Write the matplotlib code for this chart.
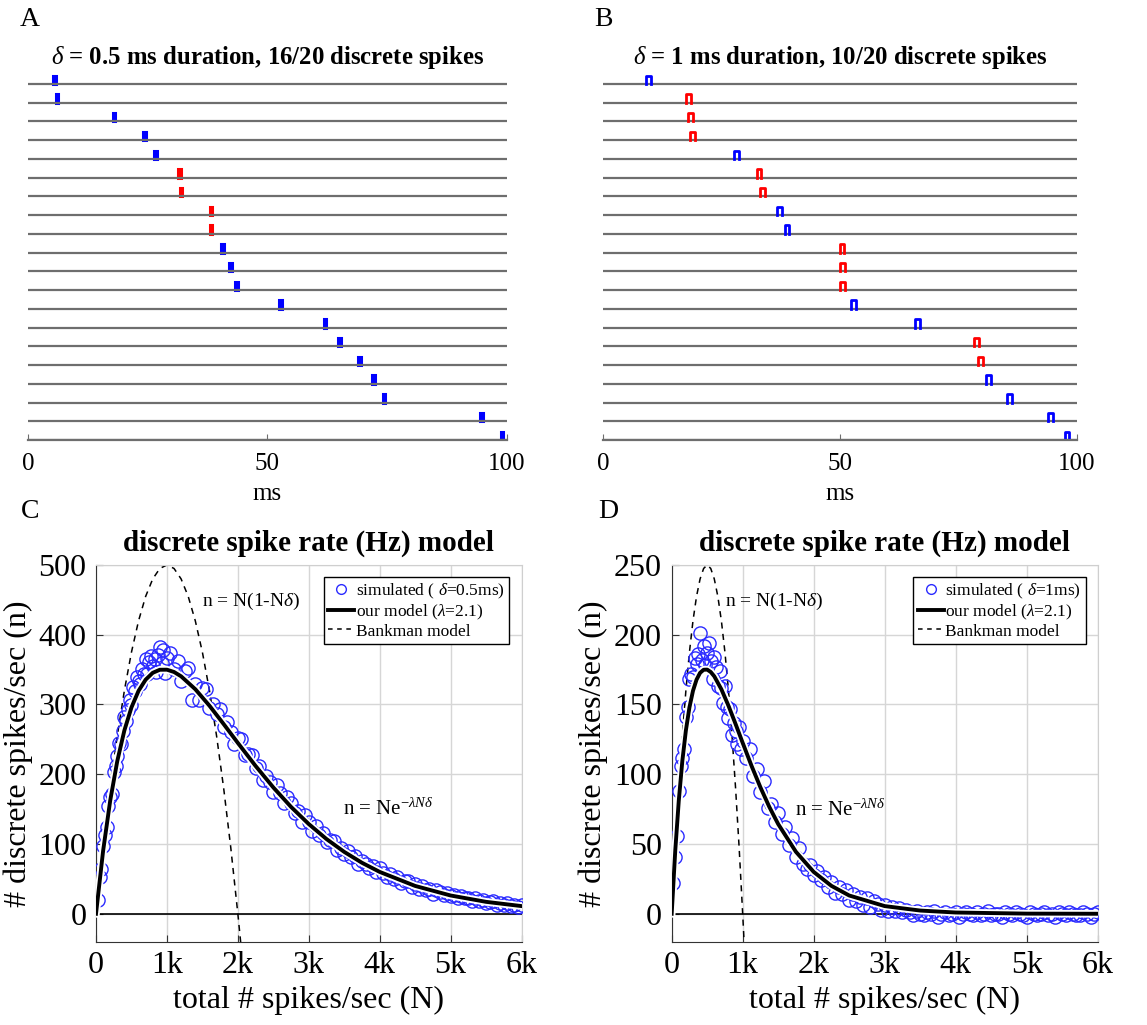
import matplotlib
matplotlib.use("Agg")
import matplotlib.pyplot as plt
import numpy as np

plt.rcParams['font.family'] = 'Liberation Serif'
plt.rcParams['mathtext.fontset'] = 'custom'
plt.rcParams['mathtext.rm'] = 'Liberation Serif'
plt.rcParams['mathtext.it'] = 'Liberation Serif:italic'
plt.rcParams['mathtext.bf'] = 'Liberation Serif:bold'

#### raster data (spike onset in ms, one per trace, top to bottom) ####
spikes_a = [5.3, 5.8, 17.7, 24.1, 26.4, 31.4, 31.7, 38.0, 38.0, 40.4,
            42.0, 43.3, 52.5, 61.7, 64.8, 69.0, 71.9, 74.1, 94.4, 98.7]
colors_a = ['b', 'b', 'b', 'b', 'b', 'r', 'r', 'r', 'r', 'b',
            'b', 'b', 'b', 'b', 'b', 'b', 'b', 'b', 'b', 'b']
spikes_b = [9.1, 17.5, 18.0, 18.4, 27.6, 32.4, 33.1, 36.7, 38.3, 49.9,
            50.0, 50.0, 52.3, 65.9, 78.3, 79.2, 80.9, 85.2, 93.9, 97.4]
colors_b = ['b', 'r', 'r', 'r', 'b', 'r', 'r', 'b', 'b', 'r',
            'r', 'r', 'b', 'b', 'r', 'r', 'b', 'b', 'b', 'b']

#### simulated points (N in spikes/sec) ####
sim_N = [25, 50, 75, 100, 125, 150, 175, 200, 225, 250, 275, 300, 325, 350, 375, 400,
         425, 450, 475, 500, 525, 550, 575, 600, 625, 650, 675, 700, 725, 750, 775, 800,
         825, 850, 875, 900, 925, 950, 975, 1000,
         1050, 1100, 1150, 1200, 1250, 1300, 1350, 1400, 1450, 1500, 1550, 1600, 1650, 1700,
         1750, 1800, 1850, 1900, 1950, 2000, 2050, 2100, 2150, 2200, 2250, 2300, 2350, 2400,
         2450, 2500, 2550, 2600, 2650, 2700, 2750, 2800, 2850, 2900, 2950, 3000, 3050, 3100,
         3150, 3200, 3250, 3300, 3350, 3400, 3450, 3500, 3550, 3600, 3650, 3700, 3750, 3800,
         3850, 3900, 3950, 4000, 4050, 4100, 4150, 4200, 4250, 4300, 4350, 4400, 4450, 4500,
         4550, 4600, 4650, 4700, 4750, 4800, 4850, 4900, 4950, 5000, 5050, 5100, 5150, 5200,
         5250, 5300, 5350, 5400, 5450, 5500, 5550, 5600, 5650, 5700, 5750, 5800, 5850, 5900,
         5950, 6000]
sim_c = [20, 52, 64, 97, 113, 124, 155, 168, 172, 203,
         212, 226, 245, 244, 262, 282, 276, 292, 306, 299,
         325, 319, 340, 334, 330, 351, 344, 365, 343, 361,
         370, 355, 365, 346, 371, 383, 360, 378, 345, 366,
         374, 351, 362, 334, 348, 352, 307, 330, 306, 323,
         322, 295, 301, 287, 294, 268, 275, 261, 244, 252,
         250, 227, 229, 228, 209, 212, 192, 198, 189, 175,
         185, 173, 159, 168, 159, 144, 147, 132, 141, 131,
         119, 126, 113, 116, 103, 106, 105, 92, 94, 86,
         90, 81, 83, 72, 76, 71, 65, 69, 60, 65,
         59, 52, 57, 50, 52, 44, 47, 47, 39, 42,
         36, 40, 34, 36, 29, 34, 31, 27, 30, 25,
         27, 22, 26, 22, 23, 18, 22, 18, 20, 15,
         17, 18, 13, 15, 13, 15, 11, 13, 10, 13]
sim_d = [22, 41, 56, 88, 106, 112, 118, 141, 148, 168,
         172, 170, 183, 179, 186, 201, 182, 192, 178, 187,
         194, 181, 168, 184, 177, 163, 174, 162, 151, 163,
         148, 140, 147, 128, 137, 131, 122, 134, 118, 124,
         112, 118, 99, 104, 87, 95, 76, 79, 66, 72,
         57, 62, 49, 54, 41, 47, 36, 32, 35, 28,
         31, 24, 26, 19, 23, 15, 19, 14, 17, 10,
         14, 9, 12, 6, 11, 5, 9, 7, 3, 6,
         2, 5, 2, 4, 1, 3,
         1, -1, 2, 0, -1, 1, 0, 2, -2, 0,
         1, -1, 0, 1, -2, 0, 1, 0, -1, 1,
         -1, 0, 2, -1, 0, 0, -2, 1, 0, -1,
         1, 0, -1, -2, 1, 0, -1, 0, 1, -1,
         0, -2, 1, 0, -1, 1, 0, -1, -1, 1,
         0, -2, 0, 1]

#### our model n = N exp(-lambda N delta) read at N points ####
model_c_N = [0, 100, 200, 300, 400, 500, 600, 700, 800, 900, 1000, 1100, 1200, 1400, 1600,
             1800, 2000, 2250, 2500, 2750, 3000, 3250, 3500, 3750, 4000, 4500, 5000, 5500, 6000]
model_c = [0, 90.0, 162.1, 218.9, 262.8, 295.8, 319.6, 335.6, 345.4, 349.8, 349.9, 346.6,
           340.4, 321.9, 298.2, 271.9, 244.9, 211.9, 181.1, 153.2, 128.6, 107.1, 88.7,
           73.1, 60.0, 39.9, 26.2, 17.1, 11.0]
model_d_N = [0, 50, 100, 150, 200, 250, 300, 350, 400, 450, 500, 550, 600, 700, 800, 900,
             1000, 1125, 1250, 1375, 1500, 1750, 2000, 2250, 2500, 3000, 3500, 4000, 5000, 6000]
model_d = [0, 45.0, 81.1, 109.5, 131.4, 147.9, 159.8, 167.8, 172.7, 174.9, 175.0, 173.3,
           170.2, 160.9, 149.1, 136.0, 122.5, 106.0, 90.6, 76.6, 64.3, 44.4, 30.0, 20.0,
           13.1, 5.5, 2.3, 0.9, 0.1, 0.0]

#### Bankman model n = N(1 - N delta) ####
bank_c_N = [0, 100, 200, 300, 400, 500, 600, 700, 800, 900, 1000, 1100, 1200, 1300, 1400,
            1500, 1600, 1700, 1800, 1900, 2000, 2040]
bank_c = [0, 95, 180, 255, 320, 375, 420, 455, 480, 495, 500, 495, 480, 455, 420,
          375, 320, 255, 180, 95, 0, -41]
bank_d_N = [0, 50, 100, 150, 200, 250, 300, 350, 400, 450, 500, 550, 600, 650, 700,
            750, 800, 850, 900, 950, 1000, 1020]
bank_d = [0, 47.5, 90, 127.5, 160, 187.5, 210, 227.5, 240, 247.5, 250, 247.5, 240, 227.5,
          210, 187.5, 160, 127.5, 90, 47.5, 0, -20.4]

GREY = '#6e6e6e'


def raster(ax, onsets, cols, width, filled):
    h = 0.45
    n = len(onsets)
    for i in range(n):
        base = n - 1 - i
        ax.plot([0, 100], [base, base], color=GREY, lw=1.6, solid_capstyle='butt')
        t = onsets[i]
        if filled:
            ax.fill([t, t, t + width, t + width], [base, base + h, base + h, base],
                    color=cols[i], lw=2.2, ec=cols[i])
        else:
            ax.plot([t, t, t + width, t + width], [base, base + h, base + h, base],
                    color=cols[i], lw=2.0)
    ax.set_xlim(0, 100)
    ax.set_ylim(0, 19.6)
    for s in ['left', 'right', 'top']:
        ax.spines[s].set_visible(False)
    ax.spines['bottom'].set_color(GREY)
    ax.spines['bottom'].set_linewidth(1.6)
    ax.set_yticks([])
    ax.set_xticks([0, 50, 100])
    ax.tick_params(axis='x', direction='in', length=4, color=GREY, labelsize=18, pad=9)
    ax.set_xlabel('ms', fontsize=18, labelpad=6)


def rate_plot(ax, ymax, ystep, delta_txt, m_N, m_n, b_N, b_n, s_n, t1, t2):
    ax.grid(True, color='#d6d6d6', lw=1)
    ax.set_axisbelow(True)
    ax.axhline(0, color='k', lw=1.2, zorder=1)
    ax.plot(b_N, b_n, color='k', lw=1.1, dashes=(4, 3.5), zorder=2)
    ax.plot(sim_N, s_n, 'o', mfc='none', mec='#2b2bff', mew=1.0, ms=9.5, zorder=3)
    ax.plot(m_N, m_n, color='white', lw=5.5, zorder=4)
    ax.plot(m_N, m_n, color='k', lw=2.8, zorder=5)
    ax.set_xlim(0, 6000)
    ax.set_ylim(-ymax * 0.08, ymax)
    ax.set_xticks([0, 1000, 2000, 3000, 4000, 5000, 6000])
    ax.set_xticklabels(['0', '1k', '2k', '3k', '4k', '5k', '6k'])
    ax.set_yticks(np.arange(0, ymax + 1, ystep))
    ax.tick_params(direction='in', length=5, labelsize=23, pad=7, color='#333333')
    ax.spines['top'].set_color('#cfcfcf')
    ax.spines['right'].set_color('#cfcfcf')
    ax.spines['left'].set_color('#333333')
    ax.spines['bottom'].set_color('#333333')
    ax.set_xlabel('total # spikes/sec (N)', fontsize=23, labelpad=4)
    ax.set_ylabel('# discrete spikes/sec (n)', fontsize=23, labelpad=4)
    ax.set_title('discrete spike rate (Hz) model', fontsize=21, fontweight='bold', pad=10)
    h1, = ax.plot([], [], 'o', mfc='none', mec='#2b2bff', mew=1.0, ms=7)
    h2, = ax.plot([], [], color='k', lw=2.8)
    h3, = ax.plot([], [], color='k', lw=1.1, dashes=(3, 3))
    leg = ax.legend([h1, h2, h3],
                    ['simulated ( $\\delta$=' + delta_txt + 'ms)',
                     'our model ($\\lambda$=2.1)', 'Bankman model'],
                    loc='upper right', fontsize=12.5, frameon=True, fancybox=False,
                    edgecolor='k', framealpha=1, handlelength=1.5, handletextpad=0.1,
                    borderpad=0.25, labelspacing=0.1, borderaxespad=0.7)
    leg.get_frame().set_linewidth(1.0)
    ax.text(t1[0], t1[1], 'n = N(1-N$\\delta$)', fontsize=14, ha='left', va='center')
    ax.text(t2[0], t2[1], 'n = Ne$^{-\\lambda N\\delta}$', fontsize=15, ha='left', va='center')


fig = plt.figure(figsize=(11.47, 10.25), dpi=100)

ax_a = fig.add_axes([0.0244, 0.5707, 0.4176, 0.3583])
raster(ax_a, spikes_a, colors_a, 0.5, True)
ax_a.set_title('$\\delta$ = 0.5 ms duration, 16/20 discrete spikes', fontsize=17.8,
               fontweight='bold', pad=6)

ax_b = fig.add_axes([0.5257, 0.5707, 0.4133, 0.3583])
raster(ax_b, spikes_b, colors_b, 1.0, False)
ax_b.set_title('$\\delta$ = 1 ms duration, 10/20 discrete spikes', fontsize=17.8,
               fontweight='bold', pad=6)

ax_c = fig.add_axes([0.0837, 0.0813, 0.3710, 0.3675])
rate_plot(ax_c, 500, 100, '0.5', model_c_N, model_c, bank_c_N, bank_c, sim_c,
          (1490, 448), (3480, 150))

ax_d = fig.add_axes([0.5856, 0.0813, 0.3714, 0.3675])
rate_plot(ax_d, 250, 50, '1', model_d_N, model_d, bank_d_N, bank_d, sim_d,
          (750, 224), (1740, 74))

fig.text(30 / 1147, 1 - 20 / 1025, 'A', fontsize=20, ha='center', va='center')
fig.text(603 / 1147, 1 - 20 / 1025, 'B', fontsize=20, ha='center', va='center')
fig.text(30 / 1147, 1 - 512 / 1025, 'C', fontsize=20, ha='center', va='center')
fig.text(608 / 1147, 1 - 512 / 1025, 'D', fontsize=20, ha='center', va='center')

plt.savefig('out.png', dpi=100)
